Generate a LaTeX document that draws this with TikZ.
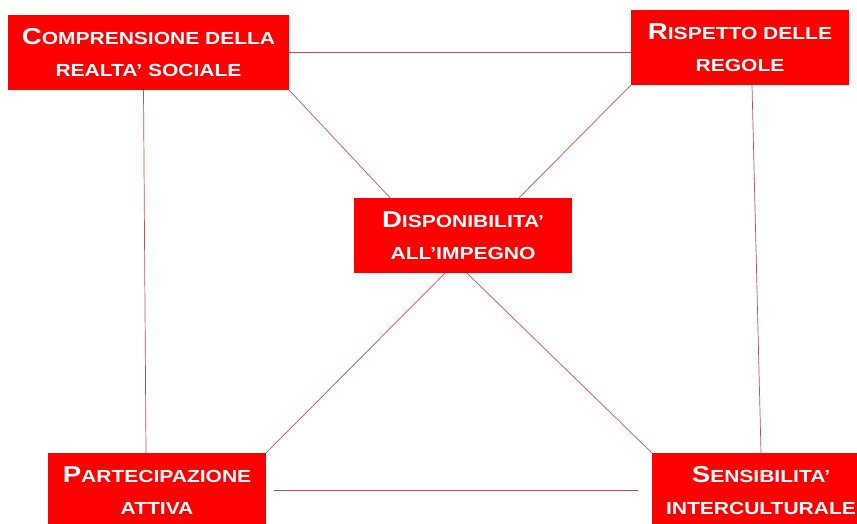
\documentclass[tikz,border=0pt]{standalone}
\usepackage{fontspec}
\setmainfont[FakeStretch=1.2]{Liberation Sans}
\usepackage{tikz}
\definecolor{boxred}{RGB}{255,0,0}
\definecolor{linkred}{RGB}{196,80,80}
\newcommand{\Cap}[1]{{\fontsize{23}{32}\selectfont #1}}

\begin{document}
\begin{tikzpicture}[x=1pt,y=1pt]
  \tikzstyle{Box}=[fill=boxred,text=white,inner sep=0pt,minimum height=75,
    align=center,font=\fontsize{17.5}{32}\selectfont\bfseries]
  \tikzstyle{Link}=[draw=linkred,line width=0.7pt]
  \useasboundingbox (0,0) rectangle (857,-523);
  \node[Box,minimum width=281] (comp) at (148.5,-52.5)
    {\Cap{C}OMPRENSIONE DELLA\\REALTA’ SOCIALE};
  \node[Box,minimum width=218] (risp) at (740,-47.5)
    {\Cap{R}ISPETTO DELLE\\REGOLE};
  \node[Box,minimum width=218] (disp) at (463,-235.5)
    {\Cap{D}ISPONIBILITA’\\ALL’IMPEGNO};
  \node[Box,minimum width=218] (part) at (157,-490.5)
    {\Cap{P}ARTECIPAZIONE\\ATTIVA};
  \node[Box,minimum width=218] (sens) at (761,-490.5)
    {\Cap{S}ENSIBILITA’\\INTERCULTURALE};
  % links
  \draw[Link] (comp.east) -- (comp.east -| risp.west);
  \draw[Link] ([xshift=-5]comp.south) -- ([xshift=-11]part.north);
  \draw[Link] ([xshift=12]risp.south) -- (sens.north);
  \draw[Link] (comp.south east) -- ([xshift=-73]disp.north);
  \draw[Link] (risp.south west) -- ([xshift=56]disp.north);
  \draw[Link] ([xshift=-18]disp.south) -- (part.north east);
  \draw[Link] ([xshift=4]disp.south) -- (sens.north west);
  \draw[Link,shorten <=8,shorten >=14] (part.east) -- (sens.west);
\end{tikzpicture}
\end{document}
